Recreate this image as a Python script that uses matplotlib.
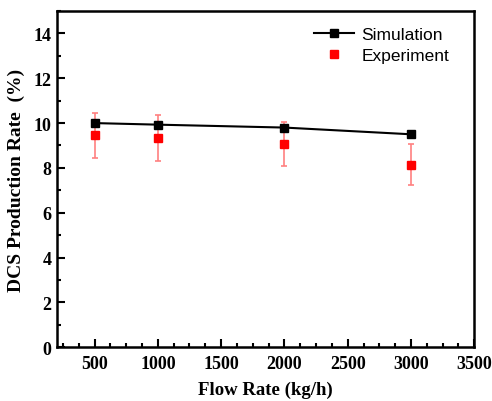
import matplotlib
matplotlib.use("Agg")
import matplotlib.pyplot as plt
from matplotlib.ticker import MultipleLocator

flow = [500, 1000, 2000, 3000]
sim = [10.0, 9.93, 9.8, 9.5]
exp = [9.45, 9.35, 9.05, 8.15]
exp_err = [1.0, 1.03, 0.98, 0.9]

fig = plt.figure(figsize=(4.92, 4.02), dpi=100)
ax = fig.add_axes([0.115, 0.134, 0.849, 0.836])

ax.errorbar(flow, exp, yerr=exp_err, fmt='none', ecolor=(1, 0.5, 0.5),
            elinewidth=1.2, capsize=2.5, capthick=1.2, zorder=2)
ax.plot(flow, exp, 's', color='red', markersize=6, label='Experiment', zorder=3)
ax.plot(flow, sim, '-s', color='black', lw=1.5, markersize=6, label='Simulation', zorder=4)

ax.set_xlim(200, 3500)
ax.set_ylim(0, 15)
ax.xaxis.set_major_locator(MultipleLocator(500))
ax.xaxis.set_minor_locator(MultipleLocator(125))
ax.yaxis.set_major_locator(MultipleLocator(2))
ax.yaxis.set_minor_locator(MultipleLocator(1))
ax.tick_params(which='both', direction='in', width=1.5)
ax.tick_params(which='major', length=6)
ax.tick_params(which='minor', length=3)
ax.tick_params(axis='x', pad=6)
ax.tick_params(top=False, right=False)
for s in ax.spines.values():
    s.set_linewidth(1.8)

for lbl in ax.get_xticklabels() + ax.get_yticklabels():
    lbl.set_fontfamily('Liberation Serif')
    lbl.set_fontweight('bold')
    lbl.set_fontsize(13)

ax.set_xlabel('Flow Rate (kg/h)', fontfamily='Liberation Serif', fontweight='bold',
              fontsize=13.5, labelpad=6)
ax.set_ylabel('DCS Production Rate  (%)', fontfamily='Liberation Serif', fontweight='bold',
              fontsize=14, labelpad=6)

h, l = ax.get_legend_handles_labels()
ax.legend(h[::-1], l[::-1], loc='upper right', frameon=False,
          prop={'family': 'Liberation Sans', 'size': 12.5},
          bbox_to_anchor=(0.977, 1.0), handlelength=2.3, handletextpad=0.4,
          labelspacing=0.35)

fig.savefig('out.png', dpi=100)
